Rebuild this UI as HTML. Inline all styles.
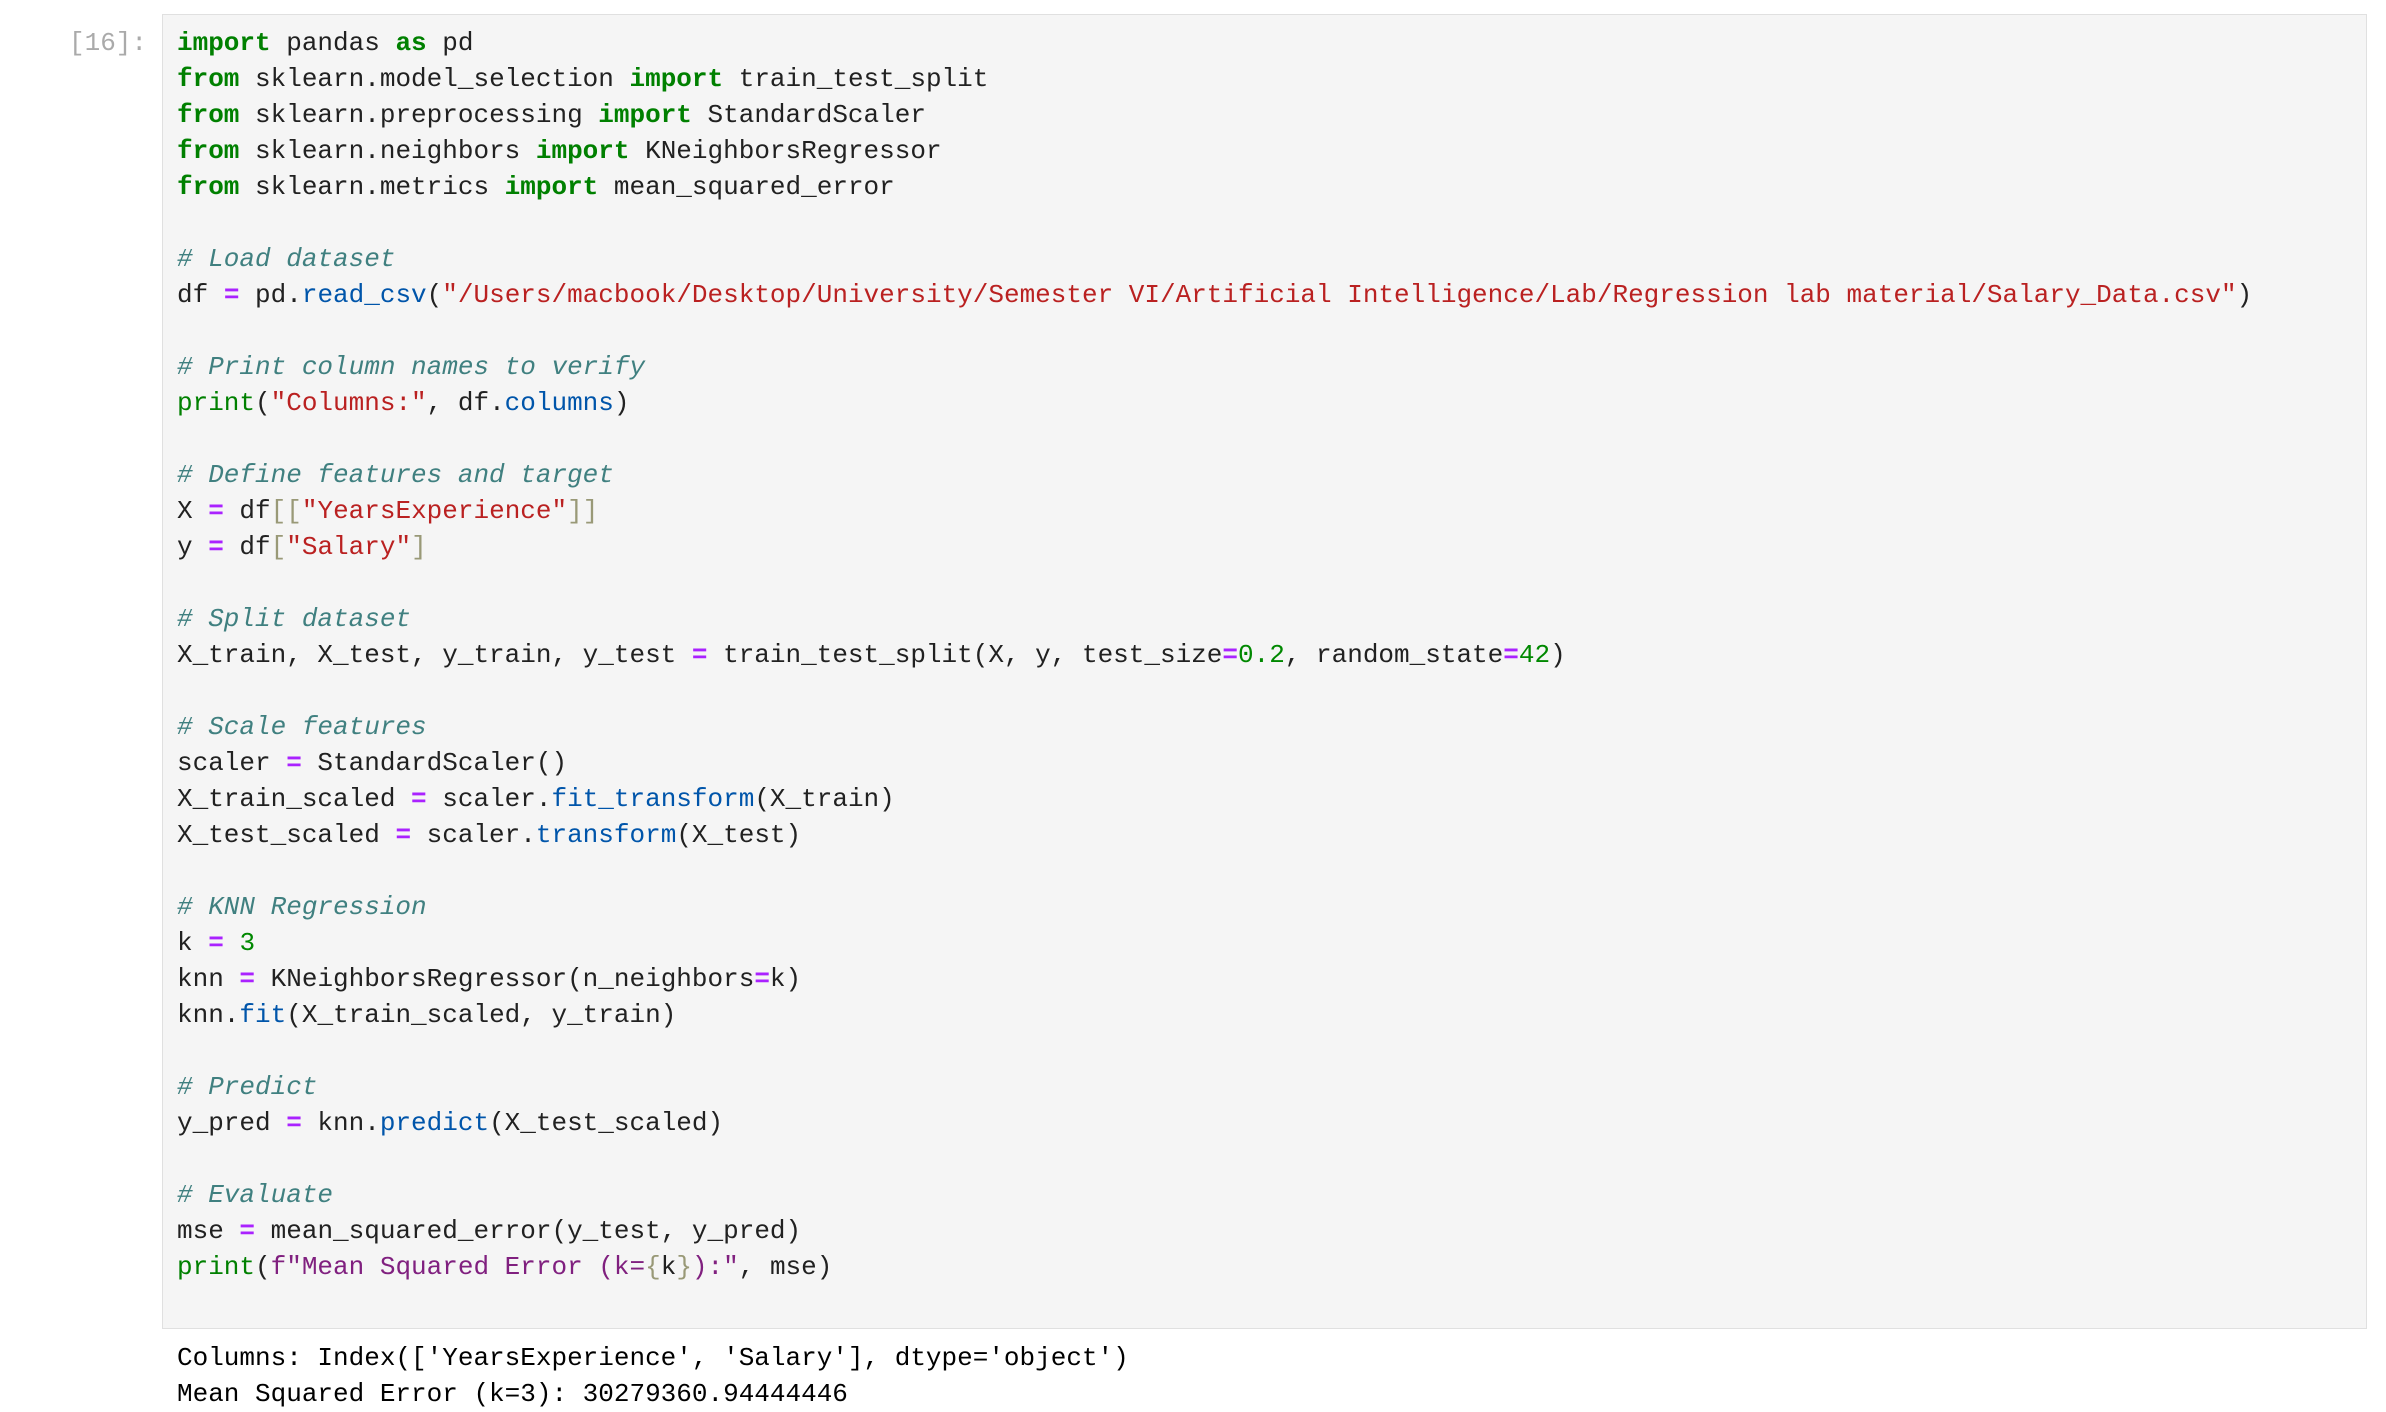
<!DOCTYPE html>
<html><head><meta charset="utf-8"><style>
html,body{margin:0;padding:0;background:#fff;width:2386px;height:1410px;overflow:hidden}
.lbl{position:absolute;left:0;width:147px;top:25px;text-align:right;font:26px/36px "Liberation Mono",monospace;color:#aaa}
.box{position:absolute;left:162px;top:14px;width:2205px;height:1315px;background:#f5f5f5;border:1px solid #e0e0e0;box-sizing:border-box}
pre{margin:0;font:26px/36px "Liberation Mono",monospace;color:#212121;white-space:pre}
.code{position:absolute;left:177px;top:25px}
.out{position:absolute;left:177px;top:1340px;color:#000}
.k{color:#008000;font-weight:bold}.c{color:#408080;font-style:italic}.s{color:#ba2121}
.o{color:#aa22ff;font-weight:bold}.n{color:#008800}.m{color:#0055aa}.b{color:#008000}
.br{color:#999977}.f{color:#80207f}
</style></head><body>
<div class="lbl">[16]:</div>
<div class="box"></div>
<pre class="code"><span class="k">import</span> pandas <span class="k">as</span> pd
<span class="k">from</span> sklearn.model_selection <span class="k">import</span> train_test_split
<span class="k">from</span> sklearn.preprocessing <span class="k">import</span> StandardScaler
<span class="k">from</span> sklearn.neighbors <span class="k">import</span> KNeighborsRegressor
<span class="k">from</span> sklearn.metrics <span class="k">import</span> mean_squared_error

<span class="c"># Load dataset</span>
df <span class="o">=</span> pd.<span class="m">read_csv</span>(<span class="s">"/Users/macbook/Desktop/University/Semester VI/Artificial Intelligence/Lab/Regression lab material/Salary_Data.csv"</span>)

<span class="c"># Print column names to verify</span>
<span class="b">print</span>(<span class="s">"Columns:"</span>, df.<span class="m">columns</span>)

<span class="c"># Define features and target</span>
X <span class="o">=</span> df<span class="br">[[</span><span class="s">"YearsExperience"</span><span class="br">]]</span>
y <span class="o">=</span> df<span class="br">[</span><span class="s">"Salary"</span><span class="br">]</span>

<span class="c"># Split dataset</span>
X_train, X_test, y_train, y_test <span class="o">=</span> train_test_split(X, y, test_size<span class="o">=</span><span class="n">0.2</span>, random_state<span class="o">=</span><span class="n">42</span>)

<span class="c"># Scale features</span>
scaler <span class="o">=</span> StandardScaler()
X_train_scaled <span class="o">=</span> scaler.<span class="m">fit_transform</span>(X_train)
X_test_scaled <span class="o">=</span> scaler.<span class="m">transform</span>(X_test)

<span class="c"># KNN Regression</span>
k <span class="o">=</span> <span class="n">3</span>
knn <span class="o">=</span> KNeighborsRegressor(n_neighbors<span class="o">=</span>k)
knn.<span class="m">fit</span>(X_train_scaled, y_train)

<span class="c"># Predict</span>
y_pred <span class="o">=</span> knn.<span class="m">predict</span>(X_test_scaled)

<span class="c"># Evaluate</span>
mse <span class="o">=</span> mean_squared_error(y_test, y_pred)
<span class="b">print</span>(<span class="f">f"Mean Squared Error (k=</span><span class="br">{</span>k<span class="br">}</span><span class="f">):"</span>, mse)</pre>
<pre class="out">Columns: Index(['YearsExperience', 'Salary'], dtype='object')
Mean Squared Error (k=3): 30279360.94444446</pre>
</body></html>
